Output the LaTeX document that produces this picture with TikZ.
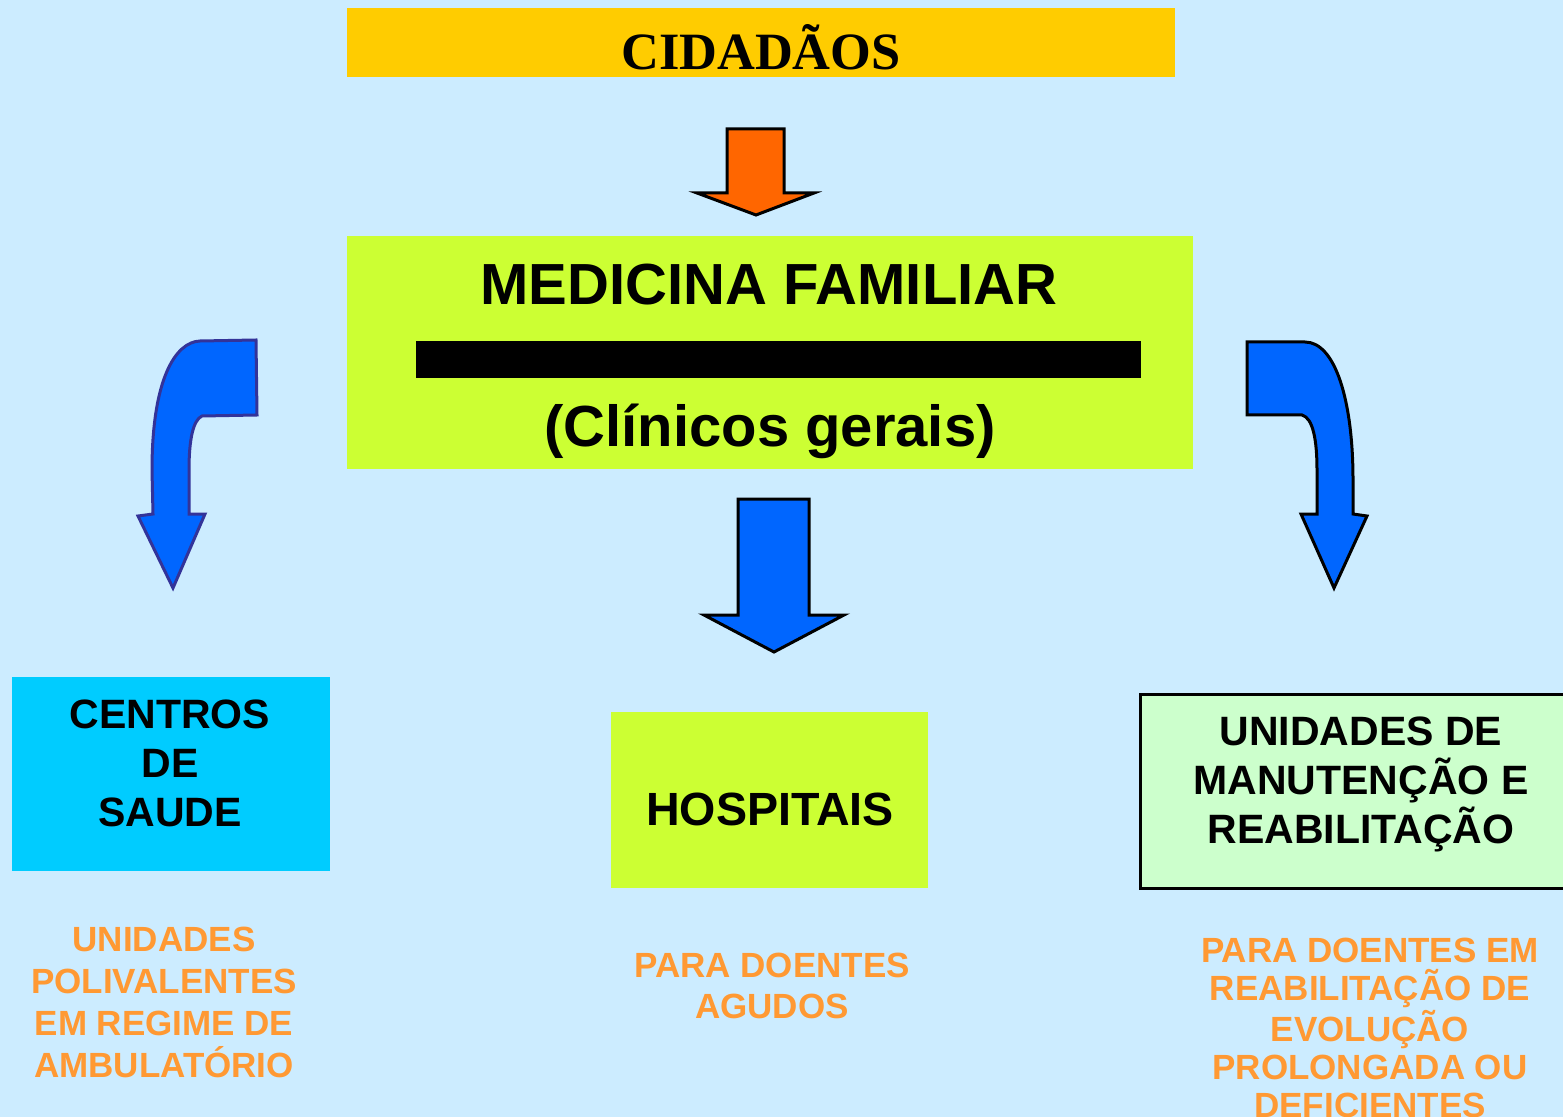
\documentclass[tikz,border=0pt]{standalone}
\usepackage{fontspec}
\setmainfont{Liberation Sans}
\newfontfamily\timesbold{Liberation Serif}
\usetikzlibrary{fit}
\definecolor{bgc}{RGB}{204,236,255}
\definecolor{yel}{RGB}{255,204,0}
\definecolor{lime}{RGB}{204,255,51}
\definecolor{cyanbox}{RGB}{0,204,255}
\definecolor{palegreen}{RGB}{204,255,204}
\definecolor{orarrow}{RGB}{255,102,0}
\definecolor{bluearrow}{RGB}{0,102,255}
\definecolor{darkblue}{RGB}{51,51,153}
\definecolor{oratext}{RGB}{255,153,51}
\begin{document}
\begin{tikzpicture}[x=0.5pt,y=-0.5pt,
  boxfill/.style={inner sep=0pt, draw=none},
  bigtxt/.style={font=\bfseries\fontsize{29}{34}\selectfont, anchor=base, inner sep=0pt},
  boxtxt/.style={font=\bfseries\fontsize{20.5}{24.5}\selectfont, align=center, inner sep=0pt},
  oranj/.style={text=oratext, font=\bfseries\fontsize{17.5}{21}\selectfont, align=center, inner sep=0pt},
  blockarrow/.style={fill=bluearrow, draw=black, line width=1.5pt, line join=miter}]
\fill[bgc] (0,0) rectangle (1563,1117);
\useasboundingbox (0,0) rectangle (1563,1117);

% top box
\node[boxfill, fill=yel, fit={(347,8) (1175,77)}] (cid) {};
\node[anchor=base, inner sep=0pt, font=\timesbold\bfseries\fontsize{26.2}{30}\selectfont] (cidt) at (761,70) {CIDADÃOS};

% orange arrow
\filldraw[fill=orarrow, draw=black, line width=1.5pt]
  (727,129) -- (784,129) -- (784,193) -- (814,193) -- (756,215) -- (697,193) -- (727,193) -- cycle;

% medicina familiar
\node[boxfill, fill=lime, fit={(347,236) (1193,469)}] (med) {};
\node[boxfill, fill=black, fit={(416,341) (1141,378)}] (bar) {};
\node[bigtxt] (medt) at (769,305) {MEDICINA FAMILIAR};
\node[bigtxt] (clin) at (770,446) {(Clínicos gerais)};

% left curved arrow
\filldraw[fill=bluearrow, draw=darkblue, line width=1.5pt, line join=miter]
  (256,340) -- (257,415) -- (202,416)
  .. controls (193,420) and (189,440) .. (189,470)
  -- (189,514) -- (205,514) -- (173,588) -- (138,516) -- (153,514) -- (152,470)
  .. controls (152,380) and (175,342) .. (200,341) -- cycle;

% right curved arrow
\filldraw[blockarrow]
  (1247,342) -- (1305,342)
  .. controls (1335,342) and (1353,400) .. (1353,480)
  -- (1353,514) -- (1367,516) -- (1334,588) -- (1301,514) -- (1317,514) -- (1317,470)
  .. controls (1317,440) and (1313,418) .. (1302,415)
  -- (1247,415) -- cycle;

% middle arrow
\filldraw[blockarrow]
  (738,499) -- (809,499) -- (809,615) -- (844,615) -- (774,652) -- (704,615) -- (738,615) -- cycle;

% bottom boxes
\node[boxfill, fill=cyanbox, fit={(12,677) (330,871)}] (cs) {};
\node[boxtxt] (cst) at (170,763) {CENTROS\\DE\\SAUDE};

\node[boxfill, fill=lime, fit={(611,712) (928,888)}] (hos) {};
\node[anchor=base, inner sep=0pt, font=\bfseries\fontsize{23.3}{28}\selectfont] (host) at (770,825) {HOSPITAIS};

\node[boxfill, fill=palegreen, draw=black, line width=1.5pt, fit={(1140,694) (1580,888)}] (um) {};
\node[boxtxt] (umt) at (1361,784) {UNIDADES DE\\MANUTENÇÃO E\\REABILITAÇÃO};

% orange texts
\node[oranj] (o1) at (164,1002) {UNIDADES\\POLIVALENTES\\EM REGIME DE\\AMBULATÓRIO};
\node[oranj, font=\bfseries\fontsize{17.5}{20.5}\selectfont] (o2) at (772,986) {PARA DOENTES\\AGUDOS};
\node[oranj, font=\bfseries\fontsize{17.5}{19}\selectfont] (o3) at (1370,1028) {PARA DOENTES EM\\REABILITAÇÃO DE\\EVOLUÇÃO\\PROLONGADA OU\\DEFICIENTES};
\end{tikzpicture}
\end{document}
